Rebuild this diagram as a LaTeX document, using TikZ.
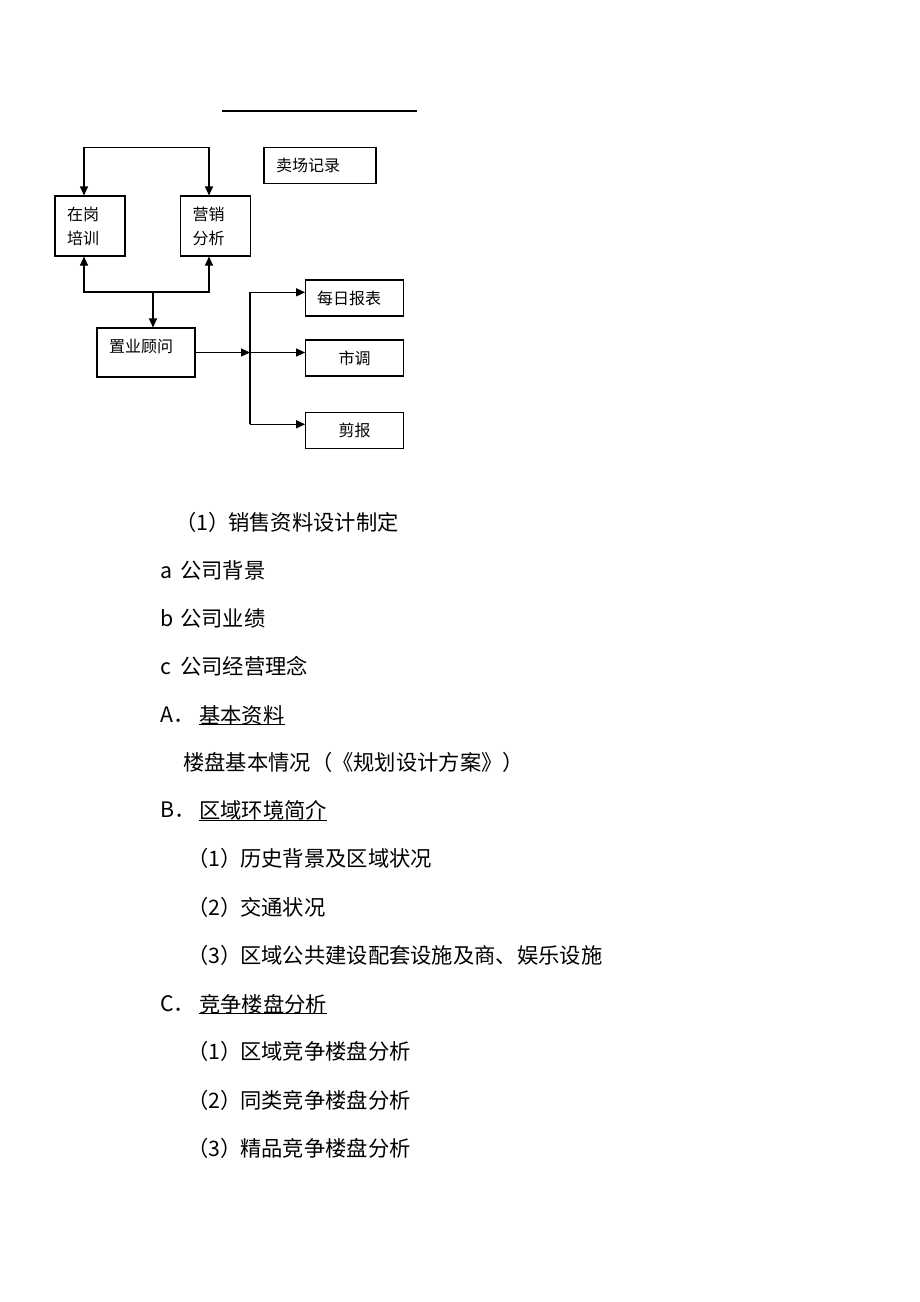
\documentclass[tikz,border=0pt]{standalone}
\usepackage{fontspec}
\setmainfont{Noto Sans CJK SC}
\usetikzlibrary{arrows.meta,calc}
\begin{document}
\begin{tikzpicture}[x=1pt,y=-1pt,
  ln/.style={line width=1.1pt, draw=black},
  box/.style={draw=black, line width=1.1pt, inner sep=0pt, font=\fontsize{16}{24}\selectfont},
  boxtxt/.style={inner sep=0pt, anchor=west, font=\fontsize{16}{24}\selectfont, align=left},
  arr/.style={ln, -{Triangle[length=9pt,width=8pt]}},
  arrs/.style={ln, {Triangle[length=9pt,width=8pt]}-{Triangle[length=9pt,width=8pt]}},
  body/.style={inner sep=0pt, anchor=west, font=\fontsize{21.3}{24}\selectfont},
  uline/.style={line width=0.9pt, draw=black}
]
\useasboundingbox (0,0) rectangle (920,1302);

% top rule
\coordinate (r1) at (222,111);
\coordinate (r2) at (417,111);
\draw[ln] (r1) -- (r2);

% boxes
\node[box, minimum width=70pt, minimum height=60pt] (zg) at (90,226) {};
\node[box, minimum width=70pt, minimum height=60pt] (yx) at (215.5,226) {};
\node[box, minimum width=112pt, minimum height=36pt] (mc) at (320,165.3) {};
\node[box, minimum width=98pt, minimum height=49pt] (zy) at (146,352.5) {};
\node[box, minimum width=97.6pt, minimum height=36pt] (mr) at (354.5,298) {};
\node[box, minimum width=97.6pt, minimum height=36pt] (sd) at (354.5,358) {市调};
\node[box, minimum width=97.6pt, minimum height=36pt] (jb) at (354.5,430.7) {剪报};

% box texts
\node[boxtxt] (zgt) at (67,226) {在岗\\培训};
\node[boxtxt] (yxt) at (192.5,226) {营销\\分析};
\node[boxtxt] (mct) at (276,165.3) {卖场记录};
\node[boxtxt] (zyt) at (109,347) {置业顾问};
\node[boxtxt] (mrt) at (317,298) {每日报表};

% connectors top
\coordinate (t1) at (84,147.3);
\coordinate (t2) at (209,147.3);
\draw[arrs] (t1 |- zg.north) -- (t1) -- (t2) -- (t2 |- yx.north);

% connectors bottom
\coordinate (b1) at (84,292);
\coordinate (b2) at (209,292);
\coordinate (b3) at (153,292);
\draw[arrs] (b1 |- zg.south) -- (b1) -- (b2) -- (b2 |- yx.south);
\draw[arr] (b3) -- (b3 |- zy.north);

% fan out
\coordinate (j) at (250,352.5);
\coordinate (v1) at (250,292.3);
\coordinate (v3) at (250,424.3);
\draw[arr] (zy.east) -- (j);
\draw[ln] (v1) -- (v3);
\draw[arr] (v1) -- (v1 -| mr.west);
\draw[arr] (j) -- (j -| sd.west);
\draw[arr] (v3) -- (v3 -| jb.west);

% body text
\node[body] (l1) at (175,522) {\makebox[53pt][l]{（1）}销售资料设计制定};
\node[body] (l2) at (160,570) {\makebox[20pt][l]{a}公司背景};
\node[body] (l3) at (160,618) {\makebox[20pt][l]{b}公司业绩};
\node[body] (l4) at (160,666) {\makebox[20pt][l]{c}公司经营理念};

\node[body] (lA) at (160,715) {A．};
\node[body] (lAt) at (199,715) {基本资料};
\draw[uline] ($(lAt.west)+(0,9.5)$) -- ($(lAt.east)+(0,9.5)$);
\node[body] (l5) at (183,762) {楼盘基本情况（《规划设计方案》）};

\node[body] (lB) at (160,810) {B．};
\node[body] (lBt) at (199,810) {区域环境简介};
\draw[uline] ($(lBt.west)+(0,10)$) -- ($(lBt.east)+(0,10)$);
\node[body] (l6) at (187,858) {\makebox[53pt][l]{（1）}历史背景及区域状况};
\node[body] (l7) at (187,907) {\makebox[53pt][l]{（2）}交通状况};
\node[body] (l8) at (187,955) {\makebox[53pt][l]{（3）}区域公共建设配套设施及商、娱乐设施};

\node[body] (lC) at (160,1004) {C．};
\node[body] (lCt) at (199,1004) {竞争楼盘分析};
\draw[uline] ($(lCt.west)+(0,9.5)$) -- ($(lCt.east)+(0,9.5)$);
\node[body] (l9) at (187,1051) {\makebox[53pt][l]{（1）}区域竞争楼盘分析};
\node[body] (l10) at (187,1100) {\makebox[53pt][l]{（2）}同类竞争楼盘分析};
\node[body] (l11) at (187,1148) {\makebox[53pt][l]{（3）}精品竞争楼盘分析};
\end{tikzpicture}
\end{document}
